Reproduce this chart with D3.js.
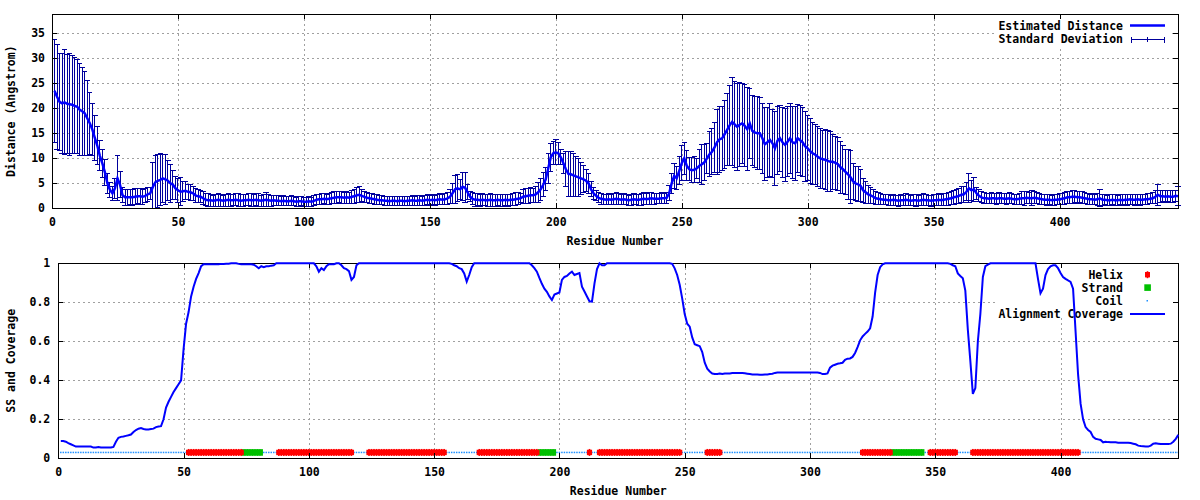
<!DOCTYPE html>
<html><head><meta charset="utf-8">
<script src="https://cdn.jsdelivr.net/npm/d3@7"></script>
<style>
body{margin:0;background:#fff}
svg{display:block}
text{font-family:"DejaVu Sans Mono",monospace;font-weight:bold;font-size:11.5px;fill:#000}
</style>
</head><body>
<svg id="c" width="1200" height="500"></svg>
<script>
// ---------------- DATA ----------------
const xTicks = [0,50,100,150,200,250,300,350,400];
const distTicks = [0,5,10,15,20,25,30,35];
const covTicks = [0,0.2,0.4,0.6,0.8,1];
const covTickLabels = ["0","0.2","0.4","0.6","0.8","1"];

// estimated distance per residue (1..447)
const distance = [
23.5,22.3,21.3,21.0,21.2,20.9,20.8,20.7,20.5,20.3,
19.7,19.4,19.0,18.0,17.0,15.8,14.1,12.5,10.5,9.0,
7.2,5.0,3.7,3.0,4.0,6.0,4.7,2.6,2.2,2.2,
2.2,2.2,2.3,2.4,2.4,2.3,2.5,2.8,3.0,4.2,
5.2,5.5,5.7,6.0,5.8,5.5,5.0,4.7,4.0,3.6,
3.3,3.4,3.5,3.3,3.2,3.0,2.6,2.4,2.3,2.0,
1.7,1.6,1.6,1.5,1.6,1.7,1.6,1.5,1.6,1.7,
1.6,1.6,1.7,1.6,1.5,1.6,1.6,1.7,1.6,1.6,
1.7,1.6,1.5,1.6,1.7,1.6,1.5,1.6,1.5,1.5,
1.4,1.5,1.4,1.4,1.5,1.4,1.3,1.4,1.4,1.3,
1.3,1.4,1.3,1.5,1.7,1.8,1.8,1.9,1.8,1.9,
2.0,2.1,2.2,2.2,2.2,2.1,2.2,2.1,2.3,2.4,
2.6,2.7,2.5,2.3,2.1,2.0,1.9,1.8,1.7,1.6,
1.6,1.5,1.5,1.4,1.5,1.5,1.4,1.5,1.5,1.4,
1.5,1.5,1.6,1.5,1.5,1.6,1.5,1.6,1.7,1.6,
1.7,1.6,1.7,1.8,1.7,1.8,2.0,2.3,3.0,3.8,
4.0,3.8,4.3,4.1,3.2,2.3,1.9,1.7,1.7,1.6,
1.7,1.6,1.6,1.7,1.6,1.6,1.7,1.6,1.6,1.7,
1.6,1.7,1.7,1.8,1.9,2.0,2.3,2.4,2.5,2.6,
2.6,2.8,3.2,3.8,4.7,5.8,8.0,10.2,11.0,11.2,
11.0,10.2,9.0,7.8,6.9,6.8,6.6,6.4,6.2,6.0,
5.8,5.5,5.0,3.8,3.0,2.5,2.1,1.9,1.8,1.7,
1.8,1.7,1.8,1.9,1.8,1.7,1.8,1.7,1.6,1.7,
1.8,1.7,1.7,1.8,1.9,1.8,1.9,2.0,1.9,1.9,
1.9,2.0,2.0,2.1,3.0,5.0,6.5,6.0,7.5,9.0,
10.0,8.5,7.8,7.6,7.7,8.0,8.5,8.8,9.2,10.0,
10.8,11.3,12.2,13.2,13.8,14.0,14.8,15.7,16.6,17.3,
16.8,16.3,16.7,17.0,16.5,15.8,17.0,15.5,15.2,15.0,
15.0,14.0,12.8,13.2,13.7,13.0,12.0,13.5,14.0,13.2,
12.7,13.3,14.0,13.2,13.0,14.0,13.6,13.2,12.4,12.0,
11.4,11.0,10.7,10.3,10.0,9.8,9.7,9.5,9.3,9.3,
9.1,8.8,8.2,7.8,7.3,6.8,6.2,5.4,5.0,4.8,
4.5,3.6,3.2,2.8,2.6,2.3,2.0,1.9,1.8,1.7,
1.7,1.6,1.6,1.7,1.6,1.5,1.6,1.6,1.7,1.6,
1.5,1.6,1.6,1.5,1.6,1.7,1.6,1.6,1.5,1.6,
1.6,1.7,1.6,1.7,1.8,1.9,2.0,2.2,2.3,2.5,
2.7,2.8,3.3,4.0,3.6,3.8,3.0,2.5,2.2,2.0,
2.0,1.9,2.0,2.0,1.9,2.0,2.0,1.9,1.9,2.0,
1.9,1.8,1.8,1.9,2.0,2.0,2.1,2.0,2.0,2.1,
2.0,1.9,1.8,1.7,1.7,1.7,1.6,1.7,1.7,1.8,
1.9,2.0,2.2,2.2,2.3,2.3,2.2,2.2,2.1,2.0,
1.9,1.8,1.8,1.7,1.8,2.0,1.7,1.7,1.6,1.6,
1.7,1.6,1.6,1.7,1.6,1.7,1.7,1.8,1.7,1.7,
1.8,1.7,1.7,1.8,1.8,1.9,2.0,2.3,2.7,2.4,
2.4,2.3,2.4,2.3,2.3,2.5,2.4
];

// standard deviation per residue (1..447)
const stdDev = [
10.3,10.5,9.7,10.0,10.5,9.9,10.2,9.8,9.6,9.4,
9.2,8.8,8.4,7.5,6.2,5.2,4.5,3.8,3.0,2.8,
2.6,2.0,1.5,1.4,2.0,4.5,2.6,1.5,1.6,1.6,
1.5,1.6,1.6,1.5,1.6,1.5,1.4,1.4,1.2,5.0,
5.3,5.3,5.2,4.8,5.0,4.0,3.8,2.9,2.3,2.4,
2.8,2.0,1.8,1.5,1.6,1.4,1.4,1.3,1.2,1.3,
1.2,1.3,1.2,1.1,1.2,1.3,1.2,1.1,1.2,1.3,
1.2,1.1,1.2,1.3,1.2,1.2,1.1,1.2,1.3,1.2,
1.2,1.3,1.1,1.2,1.4,1.2,1.1,1.0,1.0,1.0,
0.9,1.0,0.9,0.9,1.0,0.9,0.9,1.0,0.9,0.9,
0.9,1.0,0.9,1.0,1.0,1.0,1.1,1.0,1.0,1.1,
1.1,1.2,1.2,1.1,1.2,1.1,1.2,1.1,1.3,1.4,
1.5,1.6,1.2,1.1,1.0,1.0,1.0,1.0,1.0,0.9,
0.9,0.9,0.9,0.9,0.9,0.9,0.9,0.9,0.9,0.9,
0.9,0.9,1.0,0.9,1.0,1.0,0.9,1.0,1.0,1.0,
1.0,1.0,1.0,1.1,1.0,1.1,1.2,1.4,2.0,2.8,
2.7,2.0,2.8,3.0,1.5,1.0,1.2,1.3,1.2,1.2,
1.2,1.1,1.2,1.3,1.2,1.2,1.1,1.2,1.2,1.1,
1.2,1.1,1.2,1.3,1.2,0.9,1.4,1.5,1.5,1.5,
1.4,1.6,2.0,2.2,2.4,2.3,3.0,2.8,2.3,2.5,
2.2,1.5,2.0,3.5,4.5,4.5,4.3,4.0,3.8,3.2,
2.7,2.2,2.0,1.5,1.2,1.0,1.0,1.1,1.0,1.0,
1.1,1.0,1.1,1.2,1.1,1.0,1.1,1.0,1.0,1.1,
1.1,1.0,1.1,1.2,1.2,1.1,1.2,1.2,1.1,1.0,
1.0,1.1,1.0,1.1,1.5,2.0,2.5,2.3,2.8,3.5,
3.2,3.0,2.3,2.5,2.6,2.0,3.3,4.0,3.6,3.0,
4.5,4.6,5.0,6.5,6.6,6.4,6.8,7.2,8.0,8.8,
8.6,8.7,8.4,8.0,8.2,8.3,7.0,7.0,7.1,7.3,
7.2,7.0,7.3,7.0,7.3,6.8,7.4,6.8,6.6,7.0,
7.3,7.0,7.0,7.2,7.4,6.8,7.0,6.9,7.0,6.5,
6.5,6.2,6.0,6.0,6.0,5.8,6.0,6.1,6.0,5.5,
5.3,5.3,5.2,4.8,4.5,5.0,5.3,3.6,3.4,3.5,
3.2,2.4,2.2,1.8,1.6,1.4,1.3,1.2,1.1,1.0,
1.0,1.1,1.0,1.1,1.0,1.1,1.1,1.0,1.2,1.1,
1.0,1.1,1.2,1.0,1.1,1.2,1.1,1.0,1.1,1.1,
1.1,1.2,1.1,1.2,1.2,1.3,1.3,1.4,1.4,1.5,
1.6,1.6,1.8,2.9,2.0,2.4,1.2,1.2,1.1,1.1,
1.0,1.0,1.1,1.0,1.1,1.1,1.0,1.0,1.1,1.1,
1.0,1.0,1.0,1.1,1.3,1.4,1.2,1.1,1.5,1.2,
1.1,1.1,1.0,1.0,1.1,1.0,1.0,1.1,1.0,1.1,
1.1,1.2,1.2,1.2,1.3,1.2,1.2,1.1,1.2,1.1,
1.1,1.0,1.1,1.0,1.2,1.7,1.1,1.0,1.0,1.1,
1.0,1.1,1.0,1.0,1.1,1.0,1.1,1.0,1.0,1.1,
1.0,1.1,1.0,1.0,1.1,1.0,1.1,1.3,2.1,1.2,
1.1,1.2,1.1,1.2,1.2,1.1,1.9
];

// alignment coverage per residue (1..447)
const coverage = [
.089,.089,.085,.078,.072,.066,.060,.060,.060,.060,
.060,.060,.060,.055,.055,.058,.055,.055,.055,.055,
.055,.058,.085,.105,.110,.112,.115,.118,.122,.135,
.145,.152,.155,.150,.148,.148,.150,.152,.160,.163,
.165,.200,.260,.290,.315,.340,.360,.380,.400,.560,
.690,.750,.830,.880,.920,.950,.985,.995,.995,.995,
.995,.995,.995,.995,.997,.997,.998,.998,1,1,
1,.997,.995,.995,.995,.995,.995,.993,.985,.975,
.985,.980,.985,.985,.988,.990,1,1,1,1,
1,1,1,1,1,1,1,1,1,1,
1,1,.985,.957,.975,.965,.985,.995,.995,.995,
1,1,.99,.975,.97,.96,.915,.93,.99,1,
1,1,1,1,1,1,1,1,1,1,
1,1,1,1,1,1,1,1,1,1,
1,1,1,1,1,1,1,1,1,1,
1,1,1,1,1,1,.997,.99,.985,.975,
.97,.948,.906,.94,.98,1,1,1,1,1,
1,1,1,1,1,1,1,1,1,1,
1,1,1,1,1,1,1,1,.99,.975,
.957,.925,.895,.87,.854,.83,.812,.84,.845,.85,
.915,.93,.935,.948,.957,.94,.945,.95,.88,.855,
.83,.805,.803,.897,.97,1,.99,.99,1,1,
1,1,1,1,1,1,1,1,1,1,
1,1,1,1,1,1,1,1,1,1,
1,1,1,1,.997,.974,.94,.89,.82,.74,
.69,.675,.62,.585,.58,.575,.545,.49,.46,.445,
.435,.432,.432,.435,.432,.435,.435,.435,.437,.438,
.438,.438,.438,.436,.434,.432,.430,.430,.430,.428,
.428,.430,.430,.432,.434,.438,.440,.440,.440,.440,
.440,.440,.440,.440,.440,.440,.440,.440,.440,.440,
.440,.440,.440,.438,.432,.432,.435,.465,.475,.480,
.485,.487,.490,.505,.511,.512,.520,.540,.570,.605,
.625,.638,.650,.667,.727,.850,.940,.980,.995,1,
1,1,1,1,1,1,1,1,1,1,
1,1,1,1,1,1,1,1,1,1,
1,1,1,1,1,.997,.99,.985,.948,.935,
.923,.86,.66,.50,.33,.36,.60,.74,.93,.985,
.993,1,1,1,1,1,1,1,1,1,
1,1,1,1,1,1,1,1,1,1,
.92,.846,.87,.94,.97,.985,.99,.99,.975,.95,
.93,.92,.912,.905,.87,.65,.43,.28,.20,.16,
.145,.135,.110,.100,.097,.094,.082,.085,.083,.082,
.082,.082,.080,.080,.080,.080,.080,.078,.075,.072,
.065,.063,.062,.060,.060,.065,.075,.077,.075,.073,
.073,.073,.073,.075,.085,.100,.120
];

// secondary structure segments [start, end] (residues)
const helixSegments = [[52,73],[88,117],[124,154],[168,191],[212,212],[216,248],[259,264],[321,332],[348,358],[365,407]];
const strandSegments = [[74,81],[192,198],[333,345]];
const ssLevel = 0.03;
const nResidues = 447;

// ---------------- DRAW ----------------
const svg = d3.select("#c");
const P1 = {l:52, r:1178, t:14, b:208.3};
const P2 = {l:58.3, r:1178.3, t:263.3, b:458.3};

const x1 = d3.scaleLinear().domain([0, nResidues]).range([P1.l, P1.r]);
const y1 = d3.scaleLinear().domain([0, 38.86]).range([P1.b, P1.t]);
const x2 = d3.scaleLinear().domain([0, nResidues]).range([P2.l, P2.r]);
const y2 = d3.scaleLinear().domain([0, 1]).range([P2.b, P2.t]);

const residues = distance.map((d,i)=>i+1);

function grid(g, P, xs, ys, xt, yt){
  const gg = g.append("g").attr("stroke","#a0a0a0").attr("stroke-width",1)
    .attr("stroke-dasharray","2,3").attr("shape-rendering","crispEdges");
  xt.forEach(v=>{ gg.append("line").attr("x1",Math.round(xs(v))+0.5).attr("x2",Math.round(xs(v))+0.5).attr("y1",P.t).attr("y2",P.b); });
  yt.forEach(v=>{ gg.append("line").attr("y1",Math.round(ys(v))+0.5).attr("y2",Math.round(ys(v))+0.5).attr("x1",P.l).attr("x2",P.r); });
}

function axes(g, P, xs, ys, yt, yfmt, ypad){
  const ax = g.append("g");
  ax.append("g").attr("transform",`translate(0,${P.b})`)
    .call(d3.axisBottom(xs).tickValues(xTicks).tickSize(-5).tickPadding(10).tickFormat(d3.format("d")));
  ax.append("g").attr("transform",`translate(0,${P.t})`)
    .call(d3.axisTop(xs).tickValues(xTicks).tickSize(-5).tickFormat(""));
  ax.append("g").attr("transform",`translate(${P.l},0)`)
    .call(d3.axisLeft(ys).tickValues(yt).tickSize(-5).tickPadding(ypad).tickFormat(yfmt));
  ax.append("g").attr("transform",`translate(${P.r},0)`)
    .call(d3.axisRight(ys).tickValues(yt).tickSize(-5).tickFormat(""));
  ax.selectAll(".domain").remove();
  ax.selectAll(".tick line").attr("stroke","#000").attr("shape-rendering","crispEdges");
  ax.selectAll("text").attr("font-family",null).attr("font-size",null).attr("fill","#000");
  g.append("rect").attr("x",Math.round(P.l)+0.5).attr("y",Math.round(P.t)+0.5)
    .attr("width",Math.round(P.r)-Math.round(P.l)).attr("height",Math.round(P.b)-Math.round(P.t))
    .attr("fill","none").attr("stroke","#000").attr("stroke-width",1).attr("shape-rendering","crispEdges");
}

// ===== Top chart =====
const g1 = svg.append("g");
grid(g1, P1, x1, y1, xTicks, distTicks);
g1.append("rect").attr("x",995).attr("y",17).attr("width",177).attr("height",29).attr("fill","#fff");

// error bars
const eb = g1.append("g").attr("stroke","#00009c").attr("stroke-width",1).attr("shape-rendering","crispEdges");
residues.forEach((r,i)=>{
  const xc = x1(r), lo = y1(Math.max(0,distance[i]-stdDev[i])), hi = y1(distance[i]+stdDev[i]);
  eb.append("line").attr("x1",xc).attr("x2",xc).attr("y1",lo).attr("y2",hi);
  eb.append("line").attr("x1",xc-2.7).attr("x2",xc+2.7).attr("y1",lo).attr("y2",lo);
  eb.append("line").attr("x1",xc-2.7).attr("x2",xc+2.7).attr("y1",hi).attr("y2",hi);
});
// mean line
g1.append("path").datum(residues)
  .attr("d", d3.line().x(r=>x1(r)).y((r,i)=>y1(distance[i])))
  .attr("fill","none").attr("stroke","#0000ff").attr("stroke-width",2.5);

axes(g1, P1, x1, y1, distTicks, d3.format("d"), 7);

g1.append("text").attr("x",1123).attr("y",26).attr("text-anchor","end").attr("dominant-baseline","central").text("Estimated Distance");
g1.append("line").attr("x1",1130).attr("x2",1165).attr("y1",25.5).attr("y2",25.5).attr("stroke","#0000ff").attr("stroke-width",2.5);
g1.append("text").attr("x",1123).attr("y",39).attr("text-anchor","end").attr("dominant-baseline","central").text("Standard Deviation");
const lg = g1.append("g").attr("stroke","#00009c").attr("shape-rendering","crispEdges");
lg.append("line").attr("x1",1131).attr("x2",1165).attr("y1",39.5).attr("y2",39.5);
lg.append("line").attr("x1",1131.5).attr("x2",1131.5).attr("y1",36.5).attr("y2",42.5);
lg.append("line").attr("x1",1164.5).attr("x2",1164.5).attr("y1",36.5).attr("y2",42.5);
lg.append("line").attr("x1",1147.5).attr("x2",1147.5).attr("y1",37).attr("y2",42);

g1.append("text").attr("x",(P1.l+P1.r)/2).attr("y",241).attr("text-anchor","middle").attr("dominant-baseline","central").text("Residue Number");
g1.append("text").attr("transform",`translate(11,${(P1.t+P1.b)/2}) rotate(-90)`).attr("text-anchor","middle").attr("dominant-baseline","central").text("Distance (Angstrom)");

// ===== Bottom chart =====
const g2 = svg.append("g");
grid(g2, P2, x2, y2, xTicks, covTicks);
g2.append("rect").attr("x",995).attr("y",265).attr("width",177).attr("height",52).attr("fill","#fff");

const ssType = residues.map(r=>{
  if (helixSegments.some(s=>r>=s[0]&&r<=s[1])) return "H";
  if (strandSegments.some(s=>r>=s[0]&&r<=s[1])) return "E";
  return "C";
});
const ssg = g2.append("g");
const yss = y2(ssLevel);
residues.forEach((r,i)=>{
  const xc = x2(r);
  if (ssType[i]==="C") {
    ssg.append("rect").attr("x",xc-0.75).attr("y",yss-0.75).attr("width",1.5).attr("height",1.5).attr("fill","#1e90ff");
  }
});
residues.forEach((r,i)=>{
  const xc = x2(r);
  if (ssType[i]==="E") {
    ssg.append("rect").attr("x",xc-1.7).attr("y",yss-3.3).attr("width",3.4).attr("height",6.6).attr("fill","#00c000");
  }
});
residues.forEach((r,i)=>{
  const xc = x2(r);
  if (ssType[i]==="H") {
    ssg.append("rect").attr("x",xc-2.6).attr("y",yss-2.7).attr("width",5.2).attr("height",5.4).attr("fill","#ff0000");
    ssg.append("rect").attr("x",xc-0.8).attr("y",yss-3.5).attr("width",1.6).attr("height",7).attr("fill","#ff0000");
  }
});

axes(g2, P2, x2, y2, covTicks, d=>covTickLabels[covTicks.indexOf(d)], 8);

const lx = 1123;
[["Helix",275],["Strand",288],["Coil",301],["Alignment Coverage",314]].forEach(([t,y])=>{
  g2.append("text").attr("x",lx).attr("y",y).attr("text-anchor","end").attr("dominant-baseline","central").text(t);
});
g2.append("rect").attr("x",1145).attr("y",272).attr("width",5).attr("height",5.4).attr("fill","#ff0000");
g2.append("rect").attr("x",1146.7).attr("y",271.2).attr("width",1.6).attr("height",7).attr("fill","#ff0000");
g2.append("rect").attr("x",1144.3).attr("y",284.3).attr("width",6.6).attr("height",6.6).attr("fill","#00c000");
g2.append("rect").attr("x",1146.5).attr("y",300).attr("width",1.5).attr("height",1.5).attr("fill","#1e90ff");
g2.append("line").attr("x1",1130).attr("x2",1165).attr("y1",314).attr("y2",314).attr("stroke","#0000ff").attr("stroke-width",2);

g2.append("path").datum(residues)
  .attr("d", d3.line().x(r=>x2(r)).y((r,i)=>y2(coverage[i])))
  .attr("fill","none").attr("stroke","#0000ff").attr("stroke-width",2);

g2.append("text").attr("x",(P2.l+P2.r)/2).attr("y",491).attr("text-anchor","middle").attr("dominant-baseline","central").text("Residue Number");
g2.append("text").attr("transform",`translate(11,${(P2.t+P2.b)/2}) rotate(-90)`).attr("text-anchor","middle").attr("dominant-baseline","central").text("SS and Coverage");
</script>
</body></html>
